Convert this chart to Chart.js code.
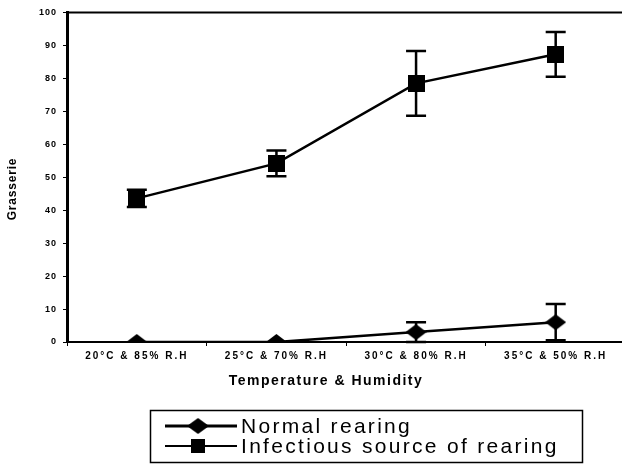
<!DOCTYPE html>
<html>
<head>
<meta charset="utf-8">
<script src="https://cdn.jsdelivr.net/npm/chart.js@4"></script>
<style>
  html, body { margin: 0; background: #fff; overflow: hidden; }
  #wrap { width: 638px; height: 464px; position: relative; }
</style>
</head>
<body>
<div id="wrap"><canvas id="chart"></canvas></div>
<script>
const categories = ["20°C & 85% R.H", "25°C & 70% R.H", "30°C & 80% R.H", "35°C & 50% R.H"];
const normalMean = [0, 0, 3, 6];
const normalErr = [0, 0, 3, 5.5];
const infectMean = [43.6, 54.2, 78.5, 87.3];
const infectErr = [2.6, 3.9, 9.8, 6.8];
const seriesNames = ["Normal rearing", "Infectious source of rearing"];
const xTitle = "Temperature & Humidity";
const yTitle = "Grasserie";

const FONT = "'Liberation Sans', Arial, sans-serif";

// marker shapes as small canvases
function makeDiamond(w, h) {
  const c = document.createElement("canvas");
  c.width = w; c.height = h;
  const g = c.getContext("2d");
  g.fillStyle = "#000";
  g.beginPath();
  g.moveTo(0, h / 2); g.lineTo(w / 2, 0); g.lineTo(w, h / 2); g.lineTo(w / 2, h);
  g.closePath(); g.fill();
  return c;
}
function makeSquare(s) {
  const c = document.createElement("canvas");
  c.width = s; c.height = s;
  const g = c.getContext("2d");
  g.fillStyle = "#000";
  g.fillRect(0, 0, s, s);
  return c;
}
const diamond = makeDiamond(21, 16);
const square = makeSquare(17);

// error bars drawn from the data through the scales
const errorBars = {
  id: "errorBars",
  afterDatasetsDraw(chart) {
    const ctx = chart.ctx;
    const y = chart.scales.y;
    ctx.save();
    ctx.strokeStyle = "#000";
    ctx.lineWidth = 2.5;
    chart.data.datasets.forEach((ds, di) => {
      const meta = chart.getDatasetMeta(di);
      meta.data.forEach((pt, i) => {
        const e = ds.errors[i];
        if (!e) return;
        const top = y.getPixelForValue(ds.data[i] + e);
        const bot = y.getPixelForValue(Math.max(0, ds.data[i] - e));
        ctx.beginPath();
        ctx.moveTo(pt.x, top); ctx.lineTo(pt.x, bot);
        ctx.moveTo(pt.x - 10, top); ctx.lineTo(pt.x + 10, top);
        ctx.moveTo(pt.x - 10, bot); ctx.lineTo(pt.x + 10, bot);
        ctx.stroke();
      });
    });
    ctx.restore();
    // wider spacing for the category labels drawn next (x ticks have z: 1)
    ctx.letterSpacing = "2px";
  }
};

// top frame line, axis titles and the boxed legend
const frameAndLegend = {
  id: "frameAndLegend",
  afterDraw(chart) {
    const ctx = chart.ctx;
    const a = chart.chartArea;
    ctx.save();
    ctx.strokeStyle = "#000";
    ctx.fillStyle = "#000";
    ctx.lineWidth = 2;
    ctx.beginPath();
    ctx.moveTo(a.left, a.top); ctx.lineTo(chart.width, a.top);
    ctx.stroke();

    // axis titles
    ctx.textAlign = "center";
    ctx.textBaseline = "middle";
    ctx.letterSpacing = "1.5px";
    ctx.font = "bold 14px " + FONT;
    ctx.fillText(xTitle, 326, 381);
    ctx.save();
    ctx.translate(13, 189);
    ctx.rotate(-Math.PI / 2);
    ctx.letterSpacing = "0.8px";
    ctx.font = "bold 12px " + FONT;
    ctx.fillText(yTitle, 0, 0);
    ctx.restore();

    // legend
    ctx.lineWidth = 1.5;
    ctx.strokeRect(150.5, 410.5, 432, 52);
    const rows = [
      { y: 426, img: diamond, lw: 3, w: 22, h: 16 },
      { y: 446, img: square, lw: 2, w: 14, h: 14 }
    ];
    ctx.textAlign = "left";
    ctx.letterSpacing = "2.3px";
    ctx.font = "21px " + FONT;
    rows.forEach((r, i) => {
      ctx.lineWidth = r.lw;
      ctx.beginPath();
      ctx.moveTo(165, r.y); ctx.lineTo(237, r.y);
      ctx.stroke();
      ctx.drawImage(r.img, 198 - r.w / 2, r.y - r.h / 2, r.w, r.h);
      ctx.fillText(seriesNames[i], 241, r.y + 1);
    });
    ctx.restore();
  }
};

new Chart(document.getElementById("chart"), {
  type: "line",
  data: {
    labels: categories,
    datasets: [
      {
        label: seriesNames[0],
        data: normalMean,
        errors: normalErr,
        borderColor: "#000",
        borderWidth: 2.5,
        pointStyle: diamond,
        pointRadius: 10
      },
      {
        label: seriesNames[1],
        data: infectMean,
        errors: infectErr,
        borderColor: "#000",
        borderWidth: 2.5,
        pointStyle: square,
        pointRadius: 10
      }
    ]
  },
  options: {
    responsive: true,
    maintainAspectRatio: false,
    animation: false,
    layout: { padding: { top: 12, right: 0, bottom: 72, left: 0 } },
    plugins: { legend: { display: false }, tooltip: { enabled: false } },
    scales: {
      x: {
        offset: true,
        grid: { drawOnChartArea: false, offset: true, tickLength: 4, color: "#000" },
        border: { color: "#000", width: 2 },
        ticks: { z: 1, color: "#000", font: { family: FONT, size: 10, weight: "bold" }, padding: 4, maxRotation: 0 },
        afterFit(s) { s.height = 50; s.paddingLeft = 0; s.paddingRight = 0; }
      },
      y: {
        min: 0, max: 100,
        ticks: { stepSize: 10, color: "#000", font: { family: FONT, size: 9, weight: "bold" }, padding: 6 },
        grid: { drawOnChartArea: false, tickLength: 4, color: "#000" },
        border: { color: "#000", width: 3 },
        afterFit(s) { s.width = 67; }
      }
    }
  },
  plugins: [errorBars, frameAndLegend, {
    id: "spacing",
    beforeDraw(chart) { chart.ctx.letterSpacing = "1px"; }
  }]
});
</script>
</body>
</html>
